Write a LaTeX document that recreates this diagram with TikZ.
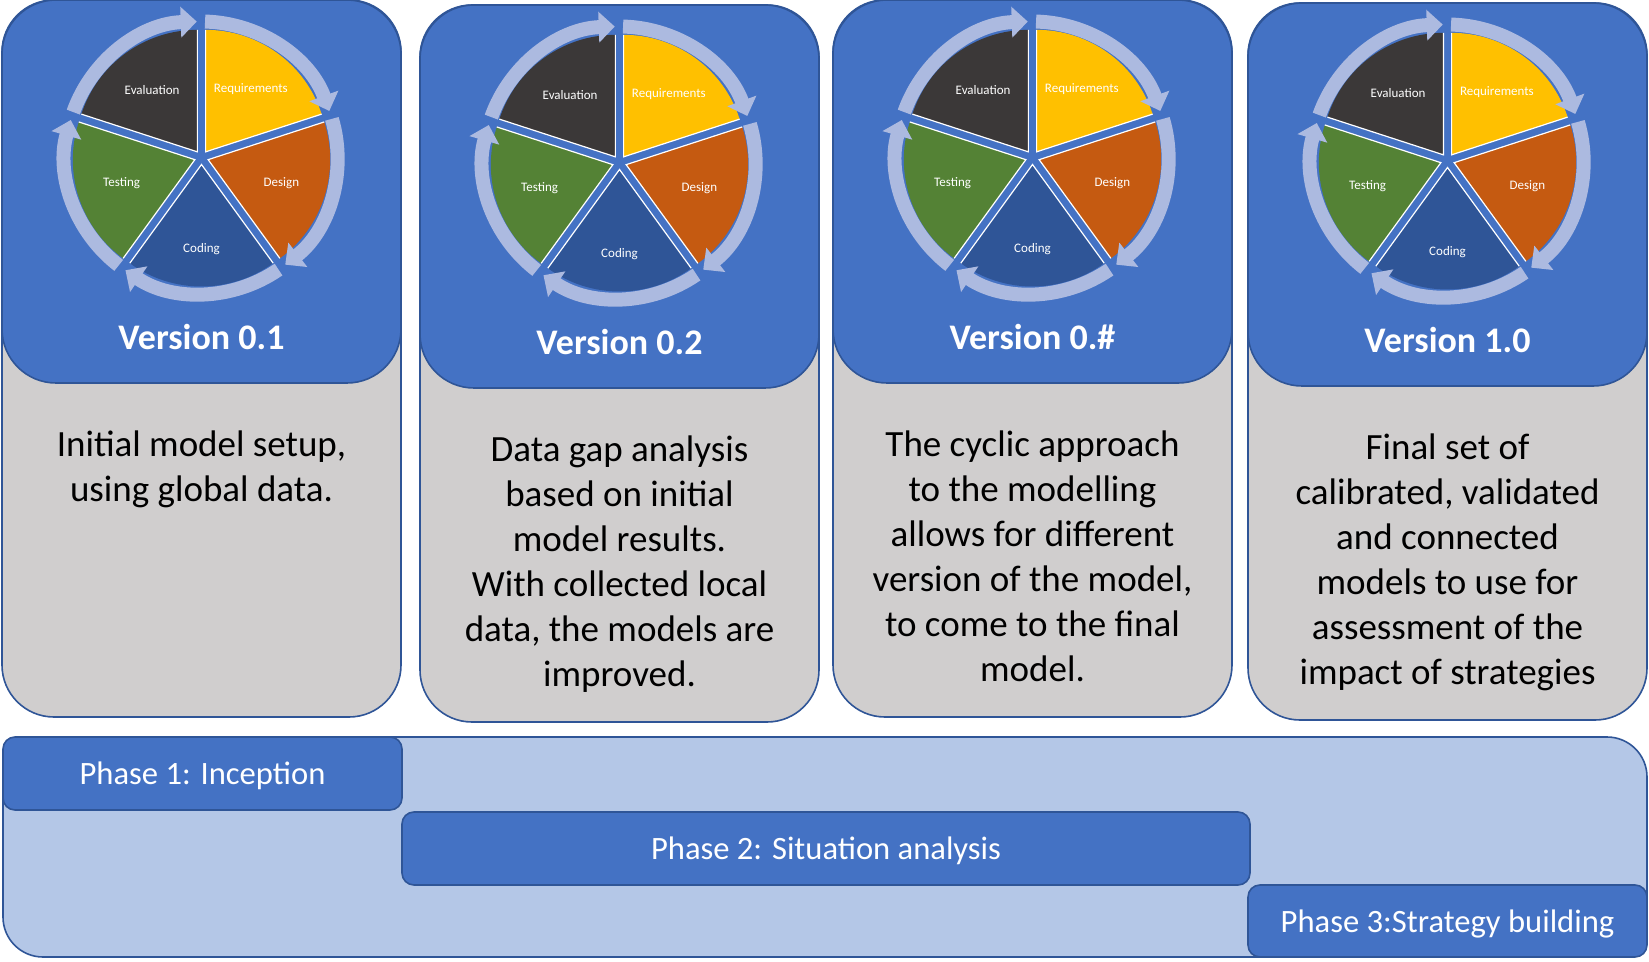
\documentclass[tikz,border=0pt]{standalone}
\usepackage{fontspec}
\setmainfont{Carlito}
\usetikzlibrary{calc, arrows.meta}

\definecolor{panelblue}{HTML}{4472C4}
\definecolor{edgeblue}{HTML}{2F5597}
\definecolor{bodygray}{HTML}{D0CECE}
\definecolor{phaselight}{HTML}{B4C7E7}
\definecolor{ringblue}{HTML}{ACBAE0}
\definecolor{reqcol}{HTML}{FFC000}
\definecolor{descol}{HTML}{C55A11}
\definecolor{codcol}{HTML}{2F5597}
\definecolor{tescol}{HTML}{548235}
\definecolor{evacol}{HTML}{3B3838}

\newcommand{\devcycle}[1]{%
  \foreach \start/\col/\lab/\rad [count=\k] in {18/reqcol/Requirements/77,
    -54/descol/Design/77, -126/codcol/Coding/85, 162/tescol/Testing/77,
    90/evacol/Evaluation/77} {
    \coordinate (#1-apex-\k) at ($(#1)+(\start+36:7)$);
    \fill [\col] (#1-apex-\k) -- ++(\start:122)
      arc [start angle=\start, end angle=\start+72, radius=122] -- cycle;
    \draw [sectoredge] ($(#1-apex-\k)+(\start:122)$) -- (#1-apex-\k)
      -- ($(#1-apex-\k)+(\start+72:122)$);
    \node [sectorlabel] (#1-\k) at ($(#1-apex-\k)+(\start+36:\rad)$) {\lab};
    \draw [ringarrow] ($(#1)+(\start+70.5:136)$)
      arc [start angle=\start+70.5, end angle=\start+2, radius=136];
  }%
}

\begin{document}
\begin{tikzpicture}
    [x=0.5pt, y=0.5pt,
    panelbody/.style={draw=edgeblue, fill=bodygray, line width=0.8pt,
      rounded corners=26pt},
    paneltop/.style={draw=edgeblue, fill=panelblue, line width=0.8pt,
      rounded corners=27pt},
    sectoredge/.style={draw=white, line width=0.6pt},
    sectorlabel/.style={text=white, inner sep=0pt,
      font=\fontsize{6.5}{8}\selectfont},
    ringarrow/.style={draw=ringblue, line width=7pt,
      -{Triangle[width=15pt, length=8pt]}},
    vertitle/.style={text=white, inner sep=0pt,
      font=\bfseries\fontsize{18}{22}\selectfont},
    desctext/.style={anchor=north, align=center, inner sep=0pt,
      font=\fontsize{18.5}{22.5}\selectfont},
    phaseback/.style={draw=edgeblue, fill=phaselight, line width=0.8pt,
      rounded corners=20pt},
    phasebox/.style={draw=edgeblue, fill=panelblue, line width=0.8pt,
      rounded corners=6pt, text=white, inner sep=0pt, text depth=0pt,
      font=\fontsize{16.3}{20}\selectfont}]

    \useasboundingbox (0,0) rectangle (1649,-962);

    \foreach \x/\y/\ver/\desc [count=\i] in {
      2/0/{Version 0.1}/{Initial model setup,\\using global data.},
      420/5/{Version 0.2}/{Data gap analysis\\based on initial\\model results.\\
        With collected local\\data, the models are\\improved.},
      833/0/{Version 0.\#}/{The cyclic approach\\to the modelling\\
        allows for different\\version of the model,\\to come to the final\\model.},
      1248/3/{Version 1.0}/{Final set of\\calibrated, validated\\and connected\\
        models to use for\\assessment of the\\impact of strategies}} {
      \draw [panelbody] (\x,-\y) rectangle ++(399,-717);
      \draw [paneltop] (\x,-\y) rectangle ++(399,-383);
      \coordinate (cyc\i) at (\x+199.5,-\y-157.5);
      \devcycle{cyc\i}
      \node [vertitle] (ver\i) at (\x+199.5,-\y-337) {\ver};
      \node [desctext] (desc\i) at (\x+199.5,-\y-430) {\desc};
    }

    \draw [phaseback] (3,-737) rectangle (1647,-957);
    \node [phasebox, minimum width=199.5pt, minimum height=36.5pt]
      (phase1) at (202.5,-773.5) {Phase 1: Inception};
    \node [phasebox, minimum width=424pt, minimum height=36.5pt]
      (phase2) at (826,-848.5) {Phase 2: Situation analysis};
    \node [phasebox, minimum width=199.5pt, minimum height=36pt]
      (phase3) at (1447.5,-921) {Phase 3:Strategy building};
\end{tikzpicture}
\end{document}
